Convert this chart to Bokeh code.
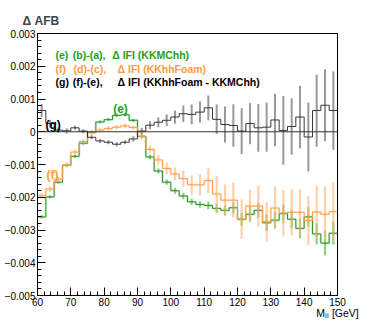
from bokeh.plotting import figure
from bokeh.models import FixedTicker, Label, Span, Range1d
from bokeh.embed import file_html
from bokeh.resources import INLINE

# ---------------- data (values in units of 1e-3) ----------------
bin_edges = [60.0, 62.5, 65.0, 67.5, 70.0, 72.5, 75.0, 77.5, 80.0, 82.5, 85.0, 87.5,
             90.0, 92.5, 95.0, 97.5, 100.0, 102.5, 105.0, 107.5, 110.0, 112.5, 115.0, 117.5,
             120.0, 122.5, 125.0, 127.5, 130.0, 132.5, 135.0, 137.5, 140.0, 142.5, 145.0, 147.5, 150.0]

e_vals = [-2.60, -1.99, -1.54, -1.02, -0.75, -0.35, -0.02, 0.30, 0.37, 0.50, 0.52, 0.35,
          -0.14, -0.77, -1.20, -1.54, -1.80, -1.96, -2.14, -2.22, -2.25, -2.34, -2.40, -2.32,
          -2.67, -2.52, -2.40, -2.78, -2.70, -2.50, -2.67, -2.95, -2.60, -3.12, -3.40, -3.10]
e_errs = [0.05, 0.05, 0.05, 0.05, 0.05, 0.05, 0.05, 0.05, 0.05, 0.05, 0.05, 0.05,
          0.06, 0.07, 0.08, 0.08, 0.09, 0.10, 0.10, 0.10, 0.12, 0.14, 0.15, 0.17,
          0.20, 0.22, 0.22, 0.25, 0.25, 0.28, 0.28, 0.30, 0.30, 0.32, 0.38, 0.35]

f_vals = [-1.95, -1.75, -1.45, -1.02, -0.62, -0.30, -0.03, 0.05, 0.10, 0.14, 0.18, 0.13,
          -0.14, -0.54, -0.86, -1.12, -1.29, -1.43, -1.62, -1.62, -1.49, -1.90, -2.09, -2.09,
          -2.67, -2.27, -2.27, -2.75, -2.33, -2.48, -2.46, -2.46, -2.71, -2.45, -2.52, -2.44]
f_errs = [0.08, 0.08, 0.08, 0.08, 0.08, 0.07, 0.07, 0.07, 0.07, 0.07, 0.07, 0.07,
          0.10, 0.12, 0.15, 0.18, 0.20, 0.25, 0.30, 0.33, 0.38, 0.55, 0.48, 0.53,
          0.60, 0.50, 0.63, 0.60, 0.65, 0.70, 0.70, 0.70, 0.75, 0.80, 0.85, 0.90]

g_vals = [0.65, 0.25, 0.05, 0.03, 0.12, 0.02, -0.17, -0.28, -0.32, -0.38, -0.32, -0.22,
          0.02, 0.20, 0.29, 0.35, 0.45, 0.55, 0.53, 0.60, 0.73, 0.38, 0.22, 0.19,
          0.02, 0.25, 0.12, 0.14, 0.36, 0.04, 0.16, 0.45, -0.16, 0.65, 0.81, 0.65]
g_errs = [0.20, 0.12, 0.08, 0.08, 0.06, 0.06, 0.06, 0.06, 0.06, 0.06, 0.06, 0.08,
          0.10, 0.12, 0.15, 0.18, 0.20, 0.25, 0.30, 0.32, 0.38, 0.45, 0.55, 0.65,
          0.70, 0.63, 0.73, 0.75, 0.80, 1.05, 0.86, 0.95, 1.05, 1.10, 1.10, 1.20]

y_ticks = [-0.005, -0.004, -0.003, -0.002, -0.001, 0.0, 0.001, 0.002, 0.003]
y_tick_labels = ["\u22120.005", "\u22120.004", "\u22120.003", "\u22120.002", "\u22120.001",
                 "0", "0.001", "0.002", "0.003"]
x_ticks = [60, 70, 80, 90, 100, 110, 120, 130, 140, 150]

GREEN_LINE = "#1e8c1e"
GREEN_ERR = "#3cb43c"
GREEN_TXT = "#22a022"
ORANGE_LINE = "#ff9a3c"
ORANGE_ERR = "#ffb070"
ORANGE_TXT = "#ff9a40"
BLACK_LINE = "#222222"
BLACK_ERR = "#555555"
FONT = "Liberation Sans"

p = figure(width=366, height=321, output_backend="svg", toolbar_location=None,
           x_range=Range1d(60, 150), y_range=Range1d(-0.005, 0.003),
           min_border_left=37, min_border_right=29, min_border_top=33, min_border_bottom=24)
p.grid.visible = False
p.outline_line_color = "black"
p.outline_line_width = 1
p.background_fill_color = "white"
p.border_fill_color = "white"

# title
p.title.text = "\u0394 AFB"
p.title.align = "left"
p.title.offset = -15
p.title.text_font = FONT
p.title.text_font_size = "12px"
p.title.text_font_style = "bold"
p.title.standoff = 12

# axes styling (ROOT-like ticks inside)
for ax in (p.xaxis[0], p.yaxis[0]):
    ax.axis_line_color = "black"
    ax.major_tick_in = 8
    ax.major_tick_out = 0
    ax.minor_tick_in = 4
    ax.minor_tick_out = 0
    ax.major_label_text_font = FONT
    ax.major_label_text_font_size = "10px"
    ax.major_label_text_color = "black"
    ax.major_tick_line_color = "black"
    ax.minor_tick_line_color = "black"

p.yaxis[0].ticker = FixedTicker(ticks=y_ticks,
                                minor_ticks=[round(-0.005 + 0.0002 * i, 6) for i in range(41)])
p.yaxis[0].major_label_overrides = {t: s for t, s in zip(y_ticks, y_tick_labels)}
p.yaxis[0].major_label_standoff = 2
p.xaxis[0].ticker = FixedTicker(ticks=x_ticks, minor_ticks=[60 + 2 * i for i in range(46)])
p.xaxis[0].major_label_standoff = 2
p.xaxis[0].axis_label = "M\u2097\u2097 [GeV]"
p.xaxis[0].axis_label_align = "end"
p.xaxis[0].axis_label_standoff = -2
p.xaxis[0].axis_label_text_font = FONT
p.xaxis[0].axis_label_text_font_size = "10.5px"
p.xaxis[0].axis_label_text_font_style = "normal"
p.xaxis[0].axis_label_text_color = "black"

# zero line
p.add_layout(Span(location=0, dimension="width", line_color="#333333", line_width=1))

centers = [(bin_edges[i] + bin_edges[i + 1]) / 2 for i in range(len(bin_edges) - 1)]


def draw_hist(vals, errs, line_color, err_color, err_alpha, err_width, halo):
    v = [x * 1e-3 for x in vals]
    e = [x * 1e-3 for x in errs]
    p.segment(x0=centers, x1=centers, y0=[a - b for a, b in zip(v, e)],
              y1=[a + b for a, b in zip(v, e)], line_color=err_color,
              line_alpha=err_alpha, line_width=err_width)
    if halo:
        p.step(x=bin_edges, y=v + [v[-1]], mode="after", line_color=err_color,
               line_width=2.4, line_alpha=0.25)
    p.step(x=bin_edges, y=v + [v[-1]], mode="after", line_color=line_color,
           line_width=1.0, line_alpha=0.9)


draw_hist(e_vals, e_errs, GREEN_LINE, GREEN_ERR, 0.6, 2.2, True)
draw_hist(f_vals, f_errs, ORANGE_LINE, ORANGE_ERR, 0.6, 2.2, True)
draw_hist(g_vals, g_errs, BLACK_LINE, BLACK_ERR, 0.6, 2.0, False)


def lab(x, y, text, color, size="10.5px", style="bold", align="left", xo=0, yo=0):
    p.add_layout(Label(x=x, y=y, text=text, text_color=color, text_font=FONT,
                       text_font_size=size, text_font_style=style, text_align=align,
                       text_baseline="middle", x_offset=xo, y_offset=yo))


# legend-like text block
lab(65.4, 0.002356, "(e)", GREEN_TXT)
lab(70.6, 0.002356, "(b)-(a),", GREEN_TXT)
lab(82.4, 0.002356, "\u0394 IFI (KKMChh)", GREEN_TXT)
lab(65.4, 0.001931, "(f)", ORANGE_TXT)
lab(70.8, 0.001931, "(d)-(c),", ORANGE_TXT)
lab(84.0, 0.001931, "\u0394 IFI (KKhhFoam)", ORANGE_TXT)
lab(65.4, 0.001521, "(g)", "black")
lab(70.6, 0.001521, "(f)-(e),", "black")
lab(84.0, 0.001521, "\u0394 IFI (KKhhFoam - KKMChh)", "black")

# in-plot tags
lab(84.9, 0.000701, "(e)", GREEN_TXT, size="12px", align="center")
lab(64.5, -0.001334, "(f)", ORANGE_TXT, size="12px", align="center")
lab(64.7, 0.000215, "(g)", "black", size="12px", align="center")

open("out.html", "w").write(file_html(p, INLINE))
